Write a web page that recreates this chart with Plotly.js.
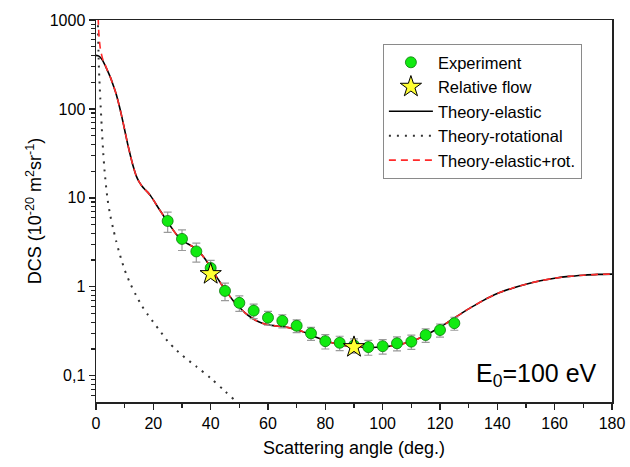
<!DOCTYPE html>
<html>
<head>
<meta charset="utf-8">
<script src="https://cdn.plot.ly/plotly-3.0.1.min.js"></script>
<style>html,body{margin:0;padding:0;background:#fff;}#chart{width:630px;height:467px;}</style>
</head>
<body>
<div id="chart"></div>
<script>
// Experiment (green circles)
const expAngle = [25,30,35,40,45,50,55,60,65,70,75,80,85,90,95,100,105,110,115,120,125];
const expDCS   = [5.5,3.46,2.5,1.63,0.90,0.66,0.54,0.45,0.415,0.365,0.30,0.245,0.235,0.22,0.21,0.215,0.232,0.242,0.287,0.327,0.39];
const expErr   = [1.4,0.9,0.6,0.35,0.2,0.13,0.1,0.08,0.07,0.06,0.05,0.045,0.043,0.04,0.04,0.04,0.042,0.044,0.05,0.055,0.065];
// Relative flow (stars)
const relAngle = [40,90];
const relDCS   = [1.39,0.21];
// Theory-elastic
const elAngle = [0,1,2,3,4,5,6,7,8,9,10,11,12,13,14,15,16,17,18,19,20,
  22,24,26,28,30,32,34,36,38,40,42,44,46,48,50,52,54,56,58,60,62,64,66,68,70,72,74,76,78,80,
  82,84,86,88,90,92,94,96,98,100,102,104,106,108,110,112,114,116,118,120,122,124,126,128,130,
  135,140,145,150,155,160,165,170,175,180];
const elDCS = [400,392,365,318,270,228,185,148,112,82,58,41,30,22.5,17.8,15.2,13.6,12.5,11.6,10.6,9.5,
  7.5,6.0,4.8,3.9,3.35,3.05,2.8,2.47,2.07,1.65,1.3,1.04,0.84,0.69,0.59,0.51,0.455,0.415,0.39,0.375,0.366,0.36,0.353,0.343,0.33,0.314,0.296,0.278,0.262,0.248,
  0.237,0.228,0.221,0.216,0.212,0.21,0.208,0.208,0.209,0.211,0.214,0.219,0.225,0.233,0.244,0.258,0.276,0.298,0.323,0.352,0.385,0.425,0.468,0.515,0.565,
  0.7,0.84,0.96,1.07,1.17,1.25,1.31,1.35,1.38,1.39];
// Theory-rotational
const rotAngle = [0,0.5,1,1.5,2,2.5,3,4,5,6,7,8,9,10,12,14,16,18,20,22,25,28,30,35,40,45,50,55];
const rotDCS   = [3000,1500,300,130,63,33,20,9.8,6.3,4.5,3.3,2.5,1.95,1.55,1.08,0.8,0.61,0.49,0.4,0.33,0.245,0.195,0.17,0.127,0.094,0.067,0.048,0.036];
// Theory-elastic+rot.: forward-angle part read separately, rest coincides with elastic
const sumHeadAngle = [0,0.5,1,1.5,2,2.5,3];
const sumHeadDCS   = [5000,1900,700,480,400,350,325];
const sumAngle = sumHeadAngle.concat(elAngle.slice(4));
const sumDCS   = sumHeadDCS.concat(elDCS.slice(4));

const xTicks = [0,20,40,60,80,100,120,140,160,180];
const yTicks = [0.1,1,10,100,1000];
const yTickText = ['0,1','1','10','100','1000'];

const minorY = [];
[0.01,0.1,1,10,100].forEach(d => { for (let k=2;k<=9;k++) minorY.push(d*k); });

const FONT = 'Arial, "Liberation Sans", sans-serif';

const traces = [
  {x: rotAngle, y: rotDCS, mode:'lines', name:'Theory-rotational', legendrank:4,
   line:{color:'#333', width:2, dash:'2px,6px', shape:'spline', smoothing:0.8}},
  {x: elAngle, y: elDCS, mode:'lines', name:'Theory-elastic', legendrank:3,
   line:{color:'#000', width:1.6, shape:'spline', smoothing:0.8}},
  {x: sumAngle, y: sumDCS, mode:'lines', name:'Theory-elastic+rot.', legendrank:5,
   line:{color:'#ff2a2a', width:1.6, dash:'7px,5px', shape:'spline', smoothing:0.8}},
  {x: expAngle, y: expDCS, mode:'markers', name:'Experiment', legendrank:1,
   error_y:{type:'data', array: expErr, visible:true, color:'#9a9a9a', thickness:1.2, width:4},
   marker:{symbol:'circle', size:11, color:'#11ea11', line:{color:'#0a7a0a', width:0.8}}},
  {x: relAngle, y: relDCS, mode:'markers', name:'Relative flow', legendrank:2,
   marker:{symbol:'star', size:16, color:'#ffff33', line:{color:'#000', width:1}}}
];

const layout = {
  width:630, height:467,
  margin:{l:96, r:18, t:20, b:65},
  paper_bgcolor:'#fff', plot_bgcolor:'#fff',
  font:{family:FONT, color:'#000', size:16},
  showlegend:true,
  legend:{x:0.556, y:0.937, xanchor:'left', yanchor:'top',
    bgcolor:'#fff', bordercolor:'#8a8a8a', borderwidth:1, itemwidth:44,
    font:{family:FONT, size:16.5, color:'#000'}, tracegroupgap:0},
  xaxis:{range:[0,180], tickvals:xTicks, ticks:'outside', ticklen:6, tickwidth:1.3, tickcolor:'#222',
    minor:{dtick:10, ticks:'outside', ticklen:4, tickwidth:1.2, tickcolor:'#222'},
    showline:true, linecolor:'#222', linewidth:1.5, mirror:true,
    showgrid:false, zeroline:false,
    tickfont:{family:FONT, size:16},
    title:{text:'Scattering angle (deg.)', font:{family:FONT, size:18}, standoff:10}},
  yaxis:{type:'log', range:[-1.295, 3], tickvals:yTicks, ticktext:yTickText,
    ticks:'outside', ticklen:6, tickwidth:1.3, tickcolor:'#222',
    minor:{tickvals:minorY, ticks:'outside', ticklen:4, tickwidth:1.1, tickcolor:'#222'},
    showline:true, linecolor:'#222', linewidth:1.5, mirror:true,
    showgrid:false, zeroline:false,
    tickfont:{family:FONT, size:16},
    title:{text:'DCS (10<sup>-20</sup> m<sup>2</sup>sr<sup>-1</sup>)', font:{family:FONT, size:18}, standoff:3}},
  annotations:[{xref:'paper', yref:'paper', x:0.975, y:0.07, xanchor:'right', yanchor:'middle',
    showarrow:false, text:'E<sub>0</sub>=100 eV', font:{family:FONT, size:25, color:'#000'}}]
};

Plotly.newPlot('chart', traces, layout, {displayModeBar:false, staticPlot:true});
</script>
</body>
</html>
